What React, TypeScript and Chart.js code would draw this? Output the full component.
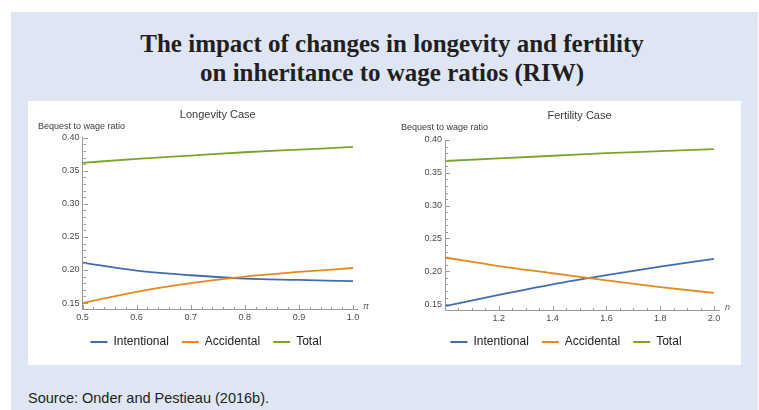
import React, { useEffect, useRef } from "react";
import { Chart, registerables } from "chart.js";

Chart.register(...registerables);

// ---------- data ----------
const TITLE_LINES = [
  "The impact of changes in longevity and fertility",
  "on inheritance to wage ratios (RIW)",
];
const SOURCE_TEXT = "Source: Onder and Pestieau (2016b).";
const SERIES_NAMES = ["Intentional", "Accidental", "Total"];
const Y_LABEL = "Bequest to wage ratio";
const Y_TICKS = [0.15, 0.2, 0.25, 0.3, 0.35, 0.4];

const LONGEVITY_TITLE = "Longevity Case";
const LONGEVITY_VAR = "\u03c0";
const LONGEVITY_X = [0.5, 0.6, 0.7, 0.8, 0.9, 1.0];
const LONGEVITY_INTENTIONAL = [0.211, 0.199, 0.192, 0.187, 0.185, 0.183];
const LONGEVITY_ACCIDENTAL = [0.15, 0.167, 0.18, 0.19, 0.197, 0.203];
const LONGEVITY_TOTAL = [0.362, 0.368, 0.373, 0.378, 0.382, 0.386];
const LONGEVITY_X_TICKS = [0.5, 0.6, 0.7, 0.8, 0.9, 1.0];

const FERTILITY_TITLE = "Fertility Case";
const FERTILITY_VAR = "n";
const FERTILITY_X = [1.0, 1.2, 1.4, 1.6, 1.8, 2.0];
const FERTILITY_INTENTIONAL = [0.147, 0.164, 0.18, 0.194, 0.207, 0.219];
const FERTILITY_ACCIDENTAL = [0.221, 0.208, 0.197, 0.186, 0.176, 0.167];
const FERTILITY_TOTAL = [0.368, 0.372, 0.376, 0.38, 0.383, 0.386];
const FERTILITY_X_TICKS = [1.2, 1.4, 1.6, 1.8, 2.0];

// ---------- style ----------
const COLORS = ["#3f6db0", "#e28b1c", "#79a52a"];
const AXIS_COLOR = "#9a9a9a";
const TICK_TEXT = "#4a4a4a";
const SANS = '"Liberation Sans", Arial, sans-serif';

type PanelCfg = {
  title: string;
  xVar: string;
  xs: number[];
  series: number[][];
  xTicks: number[];
  xMin: number;
  xMax: number;
  xMinorStep: number;
  xMinorCount: number;
  xMajorEvery: number;
  width: number;
  height: number;
  padL: number;
  padR: number;
  padT: number;
  padB: number;
  yAxisW: number;
  xAxisH: number;
  titleY: number;
  yLabelX: number;
  yLabelY: number;
  ext: number;
};

const decorPlugin = {
  id: "decor",
  afterDraw(chart: any, _args: any, opts: any) {
    const { ctx, chartArea: a } = chart;
    const x = chart.scales.x;
    const y = chart.scales.y;
    ctx.save();
    // panel title
    ctx.fillStyle = "#3a3a3a";
    ctx.font = `11px ${SANS}`;
    ctx.textAlign = "center";
    ctx.textBaseline = "middle";
    ctx.fillText(opts.title, (a.left + a.right) / 2, opts.titleY);
    // y axis label
    ctx.font = `9px ${SANS}`;
    ctx.textAlign = "left";
    ctx.fillStyle = "#3a3a3a";
    ctx.fillText(Y_LABEL, opts.yLabelX, opts.yLabelY);
    // x axis extension
    ctx.strokeStyle = AXIS_COLOR;
    ctx.lineWidth = 1;
    const by = Math.round(a.bottom) + 0.5;
    ctx.beginPath();
    ctx.moveTo(a.right, by);
    ctx.lineTo(a.right + opts.ext, by);
    ctx.stroke();
    // variable label
    ctx.font = `italic 9px ${SANS}`;
    ctx.fillStyle = "#555";
    ctx.textAlign = "left";
    ctx.fillText(opts.xVar, a.right + opts.ext + 5, a.bottom - 3);
    // inward ticks
    ctx.beginPath();
    for (let i = 0; i <= 25; i++) {
      const v = 0.15 + i * 0.01;
      const py = Math.round(y.getPixelForValue(v)) + 0.5;
      const len = i % 5 === 0 ? 4.5 : 2.5;
      const lx = Math.round(a.left) + 0.5;
      ctx.moveTo(lx, py);
      ctx.lineTo(lx + len, py);
    }
    for (let i = 0; i <= opts.xMinorCount; i++) {
      const v = opts.xMin + i * opts.xMinorStep;
      const px = Math.round(x.getPixelForValue(v)) + 0.5;
      const len = i % opts.xMajorEvery === 0 ? 4.5 : 2.5;
      ctx.moveTo(px, by);
      ctx.lineTo(px, by - len);
    }
    ctx.stroke();
    ctx.restore();
  },
};

function Panel({ cfg }: { cfg: PanelCfg }) {
  const ref = useRef<HTMLCanvasElement | null>(null);
  useEffect(() => {
    if (!ref.current) return;
    const datasets = cfg.series.map((vals, si) => ({
      label: SERIES_NAMES[si],
      data: cfg.xs.map((xv, i) => ({ x: xv, y: vals[i] })),
      borderColor: COLORS[si],
      backgroundColor: COLORS[si],
      borderWidth: 1.8,
      pointRadius: 0,
      cubicInterpolationMode: "monotone" as const,
      order: 3 - si,
    }));
    const chart = new Chart(ref.current, {
      type: "line",
      data: { datasets },
      plugins: [decorPlugin],
      options: {
        animation: false,
        responsive: false,
        layout: {
          padding: { left: cfg.padL, right: cfg.padR, top: cfg.padT, bottom: cfg.padB },
        },
        plugins: {
          tooltip: { enabled: false },
          title: { display: false },
          legend: {
            position: "bottom",
            labels: {
              boxWidth: 17,
              boxHeight: 2,
              padding: 13,
              color: "#222",
              font: { family: SANS, size: 12 },
              generateLabels: (ch: any) =>
                ch.data.datasets.map((d: any, i: number) => ({
                  text: d.label,
                  fillStyle: d.borderColor,
                  strokeStyle: d.borderColor,
                  lineWidth: 0,
                  hidden: false,
                  datasetIndex: i,
                  fontColor: "#222",
                })),
            },
          },
          decor: {
            title: cfg.title,
            xVar: cfg.xVar,
            titleY: cfg.titleY,
            yLabelX: cfg.yLabelX,
            yLabelY: cfg.yLabelY,
            ext: cfg.ext,
            xMin: cfg.xMin,
            xMinorStep: cfg.xMinorStep,
            xMinorCount: cfg.xMinorCount,
            xMajorEvery: cfg.xMajorEvery,
          },
        } as any,
        scales: {
          x: {
            type: "linear",
            min: cfg.xMin,
            max: cfg.xMax,
            grid: { display: false, drawTicks: false },
            border: { display: true, color: AXIS_COLOR, width: 1 },
            afterBuildTicks: (s: any) => {
              s.ticks = cfg.xTicks.map((v) => ({ value: v }));
            },
            afterFit: (s: any) => {
              s.height = cfg.xAxisH;
            },
            ticks: {
              padding: 3,
              maxRotation: 0,
              autoSkip: false,
              color: TICK_TEXT,
              font: { family: SANS, size: 9 },
              callback: (v: any) => Number(v).toFixed(1),
            },
          },
          y: {
            type: "linear",
            min: 0.141,
            max: 0.4,
            grid: { display: false, drawTicks: false },
            border: { display: true, color: AXIS_COLOR, width: 1 },
            afterBuildTicks: (s: any) => {
              s.ticks = Y_TICKS.map((v) => ({ value: v }));
            },
            afterFit: (s: any) => {
              s.width = cfg.yAxisW;
            },
            ticks: {
              padding: 3,
              autoSkip: false,
              color: TICK_TEXT,
              font: { family: SANS, size: 9 },
              callback: (v: any) => Number(v).toFixed(2),
            },
          },
        },
      } as any,
    });
    return () => chart.destroy();
  }, [cfg]);
  return (
    <canvas
      ref={ref}
      width={cfg.width}
      height={cfg.height}
      style={{ display: "block", width: cfg.width, height: cfg.height }}
    />
  );
}

const LEFT_CFG: PanelCfg = {
  title: LONGEVITY_TITLE,
  xVar: LONGEVITY_VAR,
  xs: LONGEVITY_X,
  series: [LONGEVITY_INTENTIONAL, LONGEVITY_ACCIDENTAL, LONGEVITY_TOTAL],
  xTicks: LONGEVITY_X_TICKS,
  xMin: 0.5,
  xMax: 1.0,
  xMinorStep: 0.02,
  xMinorCount: 25,
  xMajorEvery: 5,
  width: 356,
  height: 264,
  padL: 31,
  padR: 31,
  padT: 36.7,
  padB: 7,
  yAxisW: 23.5,
  xAxisH: 14,
  titleY: 14,
  yLabelX: 10,
  yLabelY: 26,
  ext: 5,
};

const RIGHT_CFG: PanelCfg = {
  title: FERTILITY_TITLE,
  xVar: FERTILITY_VAR,
  xs: FERTILITY_X,
  series: [FERTILITY_INTENTIONAL, FERTILITY_ACCIDENTAL, FERTILITY_TOTAL],
  xTicks: FERTILITY_X_TICKS,
  xMin: 1.0,
  xMax: 2.0,
  xMinorStep: 0.05,
  xMinorCount: 20,
  xMajorEvery: 4,
  width: 357,
  height: 264,
  padL: 34,
  padR: 27,
  padT: 39,
  padB: 7,
  yAxisW: 27,
  xAxisH: 13,
  titleY: 15,
  yLabelX: 17,
  yLabelY: 27,
  ext: 6,
};

export default function App() {
  return (
    <div style={{ position: "absolute", left: 0, top: 0, width: 759, height: 410, overflow: "hidden", background: "#fff" }}>
      <div style={{ position: "absolute", left: 11, top: 12, width: 747, height: 398, background: "#dfe6f3" }} />
      <div
        style={{
          position: "absolute",
          left: 92,
          top: 28.5,
          width: 600,
          textAlign: "center",
          fontFamily: '"Liberation Serif", "Times New Roman", serif',
          fontWeight: "bold",
          fontSize: 25,
          lineHeight: "29px",
          color: "#231f20",
          whiteSpace: "nowrap",
        }}
      >
        {TITLE_LINES.map((t, i) => (
          <div key={i}>{t}</div>
        ))}
      </div>
      <div style={{ position: "absolute", left: 28, top: 101, width: 713, height: 264, background: "#fff" }} />
      <div style={{ position: "absolute", left: 28, top: 101 }}>
        <Panel cfg={LEFT_CFG} />
      </div>
      <div style={{ position: "absolute", left: 384, top: 101 }}>
        <Panel cfg={RIGHT_CFG} />
      </div>
      <div
        style={{
          position: "absolute",
          left: 28,
          top: 389,
          fontFamily: SANS,
          fontSize: 14.5,
          lineHeight: "18px",
          color: "#231f20",
          whiteSpace: "nowrap",
        }}
      >
        {SOURCE_TEXT}
      </div>
    </div>
  );
}
